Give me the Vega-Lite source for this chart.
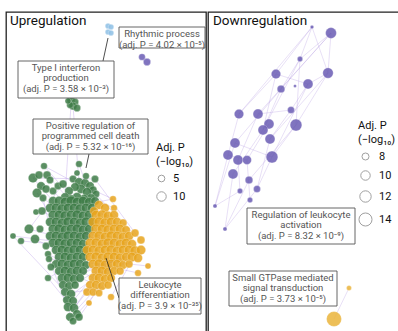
{
  "$schema": "https://vega.github.io/schema/vega-lite/v6.json",
  "padding": {"left": 5, "top": 11, "right": 0, "bottom": 0},
  "spacing": 0,
  "background": "white",
  "config": {"view": {"stroke": "#222", "strokeWidth": 1.3}, "font": "Roboto"},
  "datasets": {
    "lnodes": [
      {"x":70,"y":99,"p":7,"g":"green"},{"x":74,"y":101,"p":6,"g":"green"},{"x":72,"y":105,"p":7,"g":"green"},{"x":76,"y":107,"p":6,"g":"green"},{"x":69,"y":104,"p":5,"g":"green"},{"x":67,"y":100,"p":4,"g":"green"},
      {"x":43,"y":165,"p":5,"g":"green"},{"x":78,"y":163,"p":5,"g":"green"},{"x":32,"y":177,"p":10,"g":"green"},{"x":38,"y":174,"p":7,"g":"green"},{"x":46,"y":174,"p":7,"g":"green"},{"x":49,"y":179,"p":6,"g":"green"},{"x":40,"y":185,"p":8,"g":"green"},{"x":36,"y":192,"p":10,"g":"green"},{"x":45,"y":188,"p":7,"g":"green"},{"x":42,"y":197,"p":6,"g":"green"},{"x":52,"y":190,"p":6,"g":"green"},{"x":57,"y":185,"p":6,"g":"green"},{"x":62,"y":183,"p":7,"g":"green"},
      {"x":72,"y":178,"p":6,"g":"green"},{"x":78,"y":181,"p":8,"g":"green"},{"x":84,"y":182,"p":8,"g":"green"},{"x":89,"y":185,"p":8,"g":"green"},{"x":92,"y":189,"p":7,"g":"green"},{"x":95,"y":193,"p":6,"g":"green"},{"x":80,"y":188,"p":9,"g":"green"},{"x":86,"y":191,"p":9,"g":"green"},{"x":74,"y":186,"p":8,"g":"green"},{"x":68,"y":190,"p":8,"g":"green"},{"x":90,"y":197,"p":8,"g":"green"},{"x":83,"y":198,"p":9,"g":"green"},{"x":76,"y":196,"p":9,"g":"green"},{"x":70,"y":198,"p":8,"g":"green"},{"x":64,"y":196,"p":8,"g":"green"},{"x":94,"y":178,"p":6,"g":"green"},{"x":85,"y":175,"p":5,"g":"green"},{"x":76,"y":172,"p":4,"g":"green"},
      {"x":52,"y":200,"p":9,"g":"green"},{"x":58,"y":200,"p":10,"g":"green"},{"x":64,"y":201,"p":10,"g":"green"},{"x":70,"y":200,"p":11,"g":"green"},{"x":76,"y":201,"p":10,"g":"green"},{"x":82,"y":200,"p":10,"g":"green"},{"x":88,"y":201,"p":9,"g":"green"},{"x":94,"y":200,"p":8,"g":"green"},
      {"x":49,"y":207,"p":9,"g":"green"},{"x":55,"y":207,"p":10,"g":"green"},{"x":61,"y":208,"p":11,"g":"green"},{"x":67,"y":207,"p":10,"g":"green"},{"x":73,"y":207,"p":10,"g":"green"},{"x":79,"y":208,"p":11,"g":"green"},{"x":85,"y":207,"p":10,"g":"green"},{"x":91,"y":207,"p":9,"g":"green"},
      {"x":52,"y":214,"p":10,"g":"green"},{"x":58,"y":214,"p":10,"g":"green"},{"x":64,"y":215,"p":11,"g":"green"},{"x":70,"y":214,"p":10,"g":"green"},{"x":76,"y":214,"p":11,"g":"green"},{"x":82,"y":215,"p":10,"g":"green"},{"x":88,"y":214,"p":10,"g":"green"},
      {"x":49,"y":221,"p":9,"g":"green"},{"x":55,"y":221,"p":10,"g":"green"},{"x":61,"y":222,"p":10,"g":"green"},{"x":67,"y":221,"p":11,"g":"green"},{"x":73,"y":221,"p":10,"g":"green"},{"x":79,"y":222,"p":10,"g":"green"},{"x":85,"y":221,"p":11,"g":"green"},{"x":91,"y":221,"p":9,"g":"green"},
      {"x":52,"y":228,"p":10,"g":"green"},{"x":58,"y":228,"p":11,"g":"green"},{"x":64,"y":229,"p":10,"g":"green"},{"x":70,"y":228,"p":10,"g":"green"},{"x":76,"y":228,"p":11,"g":"green"},{"x":82,"y":229,"p":10,"g":"green"},{"x":88,"y":228,"p":9,"g":"green"},
      {"x":49,"y":235,"p":9,"g":"green"},{"x":55,"y":235,"p":10,"g":"green"},{"x":61,"y":236,"p":10,"g":"green"},{"x":67,"y":235,"p":11,"g":"green"},{"x":73,"y":235,"p":10,"g":"green"},{"x":79,"y":236,"p":10,"g":"green"},{"x":85,"y":235,"p":9,"g":"green"},
      {"x":52,"y":242,"p":10,"g":"green"},{"x":58,"y":242,"p":10,"g":"green"},{"x":64,"y":243,"p":11,"g":"green"},{"x":70,"y":242,"p":10,"g":"green"},{"x":76,"y":242,"p":10,"g":"green"},{"x":82,"y":243,"p":9,"g":"green"},
      {"x":55,"y":249,"p":9,"g":"green"},{"x":61,"y":249,"p":10,"g":"green"},{"x":67,"y":250,"p":10,"g":"green"},{"x":73,"y":249,"p":11,"g":"green"},{"x":79,"y":249,"p":10,"g":"green"},{"x":85,"y":250,"p":9,"g":"green"},
      {"x":58,"y":256,"p":9,"g":"green"},{"x":64,"y":256,"p":10,"g":"green"},{"x":70,"y":257,"p":10,"g":"green"},{"x":76,"y":256,"p":10,"g":"green"},{"x":82,"y":256,"p":9,"g":"green"},
      {"x":55,"y":263,"p":8,"g":"green"},{"x":61,"y":263,"p":10,"g":"green"},{"x":67,"y":264,"p":10,"g":"green"},{"x":73,"y":263,"p":10,"g":"green"},{"x":79,"y":263,"p":9,"g":"green"},{"x":85,"y":264,"p":8,"g":"green"},
      {"x":58,"y":270,"p":8,"g":"green"},{"x":64,"y":270,"p":10,"g":"green"},{"x":70,"y":271,"p":9,"g":"green"},{"x":76,"y":270,"p":10,"g":"green"},{"x":82,"y":270,"p":8,"g":"green"},
      {"x":61,"y":277,"p":9,"g":"green"},{"x":67,"y":277,"p":10,"g":"green"},{"x":73,"y":278,"p":9,"g":"green"},{"x":79,"y":277,"p":8,"g":"green"},
      {"x":35,"y":211,"p":4,"g":"green"},{"x":41,"y":210,"p":7,"g":"green"},{"x":28,"y":228,"p":10,"g":"green"},{"x":12,"y":235,"p":4,"g":"green"},{"x":20,"y":240,"p":5,"g":"green"},{"x":34,"y":238,"p":9,"g":"green"},{"x":39,"y":228,"p":6,"g":"green"},{"x":45,"y":245,"p":6,"g":"green"},{"x":47,"y":253,"p":5,"g":"green"},{"x":48,"y":258,"p":5,"g":"green"},{"x":47,"y":277,"p":5,"g":"green"},{"x":50,"y":266,"p":6,"g":"green"},
      {"x":62,"y":284,"p":8,"g":"green"},{"x":68,"y":285,"p":8,"g":"green"},{"x":74,"y":284,"p":7,"g":"green"},{"x":64,"y":291,"p":8,"g":"green"},{"x":70,"y":293,"p":9,"g":"green"},{"x":66,"y":299,"p":8,"g":"green"},{"x":72,"y":300,"p":8,"g":"green"},{"x":67,"y":306,"p":9,"g":"green"},{"x":73,"y":307,"p":9,"g":"green"},{"x":76,"y":313,"p":8,"g":"green"},{"x":69,"y":316,"p":8,"g":"green"},{"x":78,"y":316,"p":7,"g":"green"},{"x":72,"y":320,"p":6,"g":"green"},
      {"x":112,"y":198,"p":5,"g":"orange"},{"x":113,"y":207,"p":5,"g":"orange"},{"x":98,"y":204,"p":9,"g":"orange"},{"x":104,"y":207,"p":9,"g":"orange"},{"x":93,"y":210,"p":8,"g":"orange"},
      {"x":95,"y":214,"p":10,"g":"orange"},{"x":101,"y":214,"p":11,"g":"orange"},{"x":107,"y":215,"p":10,"g":"orange"},{"x":113,"y":214,"p":9,"g":"orange"},
      {"x":92,"y":221,"p":10,"g":"orange"},{"x":98,"y":221,"p":11,"g":"orange"},{"x":104,"y":222,"p":11,"g":"orange"},{"x":110,"y":221,"p":10,"g":"orange"},{"x":116,"y":221,"p":9,"g":"orange"},{"x":122,"y":222,"p":7,"g":"orange"},
      {"x":95,"y":228,"p":11,"g":"orange"},{"x":101,"y":228,"p":10,"g":"orange"},{"x":107,"y":229,"p":11,"g":"orange"},{"x":113,"y":228,"p":10,"g":"orange"},{"x":119,"y":228,"p":10,"g":"orange"},{"x":125,"y":229,"p":8,"g":"orange"},
      {"x":92,"y":235,"p":10,"g":"orange"},{"x":98,"y":235,"p":11,"g":"orange"},{"x":104,"y":236,"p":10,"g":"orange"},{"x":110,"y":235,"p":11,"g":"orange"},{"x":116,"y":235,"p":10,"g":"orange"},{"x":122,"y":236,"p":10,"g":"orange"},{"x":128,"y":235,"p":9,"g":"orange"},{"x":134,"y":232,"p":7,"g":"orange"},{"x":140,"y":239,"p":7,"g":"orange"},
      {"x":89,"y":242,"p":10,"g":"orange"},{"x":95,"y":242,"p":11,"g":"orange"},{"x":101,"y":243,"p":10,"g":"orange"},{"x":107,"y":242,"p":11,"g":"orange"},{"x":113,"y":242,"p":10,"g":"orange"},{"x":119,"y":243,"p":10,"g":"orange"},{"x":125,"y":242,"p":10,"g":"orange"},{"x":131,"y":243,"p":9,"g":"orange"},
      {"x":86,"y":249,"p":9,"g":"orange"},{"x":92,"y":249,"p":10,"g":"orange"},{"x":98,"y":250,"p":11,"g":"orange"},{"x":104,"y":249,"p":10,"g":"orange"},{"x":110,"y":249,"p":11,"g":"orange"},{"x":116,"y":250,"p":10,"g":"orange"},{"x":122,"y":249,"p":10,"g":"orange"},{"x":128,"y":249,"p":10,"g":"orange"},{"x":134,"y":250,"p":11,"g":"orange"},{"x":140,"y":249,"p":10,"g":"orange"},
      {"x":89,"y":256,"p":10,"g":"orange"},{"x":95,"y":256,"p":11,"g":"orange"},{"x":101,"y":257,"p":10,"g":"orange"},{"x":107,"y":256,"p":11,"g":"orange"},{"x":113,"y":256,"p":10,"g":"orange"},{"x":119,"y":257,"p":10,"g":"orange"},{"x":125,"y":256,"p":9,"g":"orange"},{"x":131,"y":256,"p":10,"g":"orange"},{"x":137,"y":257,"p":9,"g":"orange"},
      {"x":92,"y":263,"p":10,"g":"orange"},{"x":98,"y":263,"p":11,"g":"orange"},{"x":104,"y":264,"p":10,"g":"orange"},{"x":110,"y":263,"p":10,"g":"orange"},{"x":116,"y":263,"p":9,"g":"orange"},{"x":122,"y":264,"p":8,"g":"orange"},{"x":128,"y":263,"p":7,"g":"orange"},{"x":147,"y":265,"p":4,"g":"orange"},{"x":137,"y":272,"p":5,"g":"orange"},
      {"x":95,"y":270,"p":10,"g":"orange"},{"x":101,"y":270,"p":10,"g":"orange"},{"x":107,"y":271,"p":9,"g":"orange"},{"x":113,"y":270,"p":8,"g":"orange"},{"x":119,"y":270,"p":7,"g":"orange"},
      {"x":92,"y":277,"p":9,"g":"orange"},{"x":98,"y":277,"p":10,"g":"orange"},{"x":104,"y":278,"p":9,"g":"orange"},{"x":110,"y":277,"p":8,"g":"orange"},
      {"x":89,"y":284,"p":8,"g":"orange"},{"x":95,"y":284,"p":9,"g":"orange"},{"x":101,"y":285,"p":8,"g":"orange"},{"x":107,"y":284,"p":7,"g":"orange"},
      {"x":86,"y":291,"p":7,"g":"orange"},{"x":92,"y":291,"p":7,"g":"orange"},{"x":98,"y":292,"p":6,"g":"orange"},{"x":110,"y":296,"p":5,"g":"orange"},{"x":88,"y":302,"p":4,"g":"orange"},
      {"x":141,"y":56,"p":5,"g":"purple"},{"x":146,"y":61,"p":6,"g":"purple"},
      {"x":107,"y":25,"p":3.5,"g":"blue"},{"x":110,"y":26,"p":3.5,"g":"blue"},{"x":107,"y":31,"p":3.5,"g":"blue"},{"x":110,"y":32,"p":3.5,"g":"blue"}
    ],
    "ledges": [
      {"x":72,"y":105,"x2":78,"y2":181},{"x":70,"y":104,"x2":64,"y2":196},
      {"x":43,"y":165,"x2":86,"y2":214},{"x":78,"y":163,"x2":98,"y2":222},{"x":32,"y":177,"x2":72,"y2":223},{"x":46,"y":174,"x2":104,"y2":238},{"x":36,"y":192,"x2":91,"y2":237},{"x":52,"y":190,"x2":112,"y2":248},{"x":62,"y":183,"x2":121,"y2":241},{"x":84,"y":182,"x2":133,"y2":233},{"x":94,"y":178,"x2":140,"y2":240},{"x":92,"y":189,"x2":112,"y2":198},{"x":90,"y":197,"x2":113,"y2":207},{"x":83,"y":198,"x2":128,"y2":234},{"x":28,"y":228,"x2":94,"y2":246},{"x":12,"y":235,"x2":51,"y2":240},{"x":20,"y":240,"x2":88,"y2":246},{"x":34,"y":238,"x2":100,"y2":271},{"x":41,"y":210,"x2":106,"y2":247},{"x":50,"y":210,"x2":118,"y2":248},{"x":47,"y":253,"x2":96,"y2":279},{"x":48,"y":258,"x2":110,"y2":264},{"x":56,"y":266,"x2":104,"y2":288},{"x":62,"y":283,"x2":98,"y2":263},{"x":67,"y":306,"x2":108,"y2":256},{"x":73,"y":307,"x2":114,"y2":256},{"x":76,"y":313,"x2":126,"y2":258},{"x":69,"y":316,"x2":102,"y2":280},{"x":65,"y":298,"x2":120,"y2":257},{"x":63,"y":289,"x2":130,"y2":250},{"x":72,"y":276,"x2":136,"y2":251},{"x":60,"y":275,"x2":141,"y2":252},{"x":47,"y":277,"x2":90,"y2":254},{"x":88,"y":276,"x2":138,"y2":258},{"x":82,"y":258,"x2":147,"y2":265},{"x":92,"y":262,"x2":137,"y2":272},{"x":88,"y":302,"x2":106,"y2":271},{"x":110,"y":296,"x2":128,"y2":265},{"x":59,"y":231,"x2":132,"y2":238},{"x":65,"y":232,"x2":127,"y2":242},{"x":71,"y":214,"x2":121,"y2":225},{"x":66,"y":223,"x2":116,"y2":224},{"x":58,"y":203,"x2":113,"y2":216},{"x":76,"y":205,"x2":112,"y2":198},{"x":54,"y":221,"x2":93,"y2":229},{"x":45,"y":238,"x2":92,"y2":221},{"x":57,"y":240,"x2":99,"y2":230},{"x":74,"y":251,"x2":115,"y2":240},{"x":69,"y":292,"x2":92,"y2":288},{"x":78,"y":316,"x2":88,"y2":302},{"x":73,"y":307,"x2":85,"y2":290},
      {"x":32,"y":177,"x2":94,"y2":178},{"x":43,"y":165,"x2":95,"y2":193},{"x":28,"y":228,"x2":62,"y2":183},{"x":36,"y":192,"x2":76,"y2":259},{"x":42,"y":197,"x2":67,"y2":306},{"x":12,"y":235,"x2":63,"y2":289},{"x":48,"y":258,"x2":72,"y2":320},{"x":47,"y":277,"x2":76,"y2":313}
    ],
    "lboxes": [
      {"x":118,"x2":204,"y":26,"y2":47,"tx":161,"ty":28,"label":"Rhythmic process\n(adj. P = 4.02 × 10⁻⁵)"},
      {"x":17,"x2":113,"y":60,"y2":97,"tx":65,"ty":61.5,"label":"Type I interferon\nproduction\n(adj. P = 3.58 × 10⁻³)"},
      {"x":32,"x2":147,"y":118,"y2":153,"tx":89.5,"ty":119.5,"label":"Positive regulation of\nprogrammed cell death\n(adj. P = 5.32 × 10⁻¹⁶)"},
      {"x":118,"x2":200,"y":277,"y2":313,"tx":159,"ty":278.5,"label":"Leukocyte\ndifferentiation\n(adj. P = 3.9 × 10⁻³⁵)"}
    ],
    "llinks": [
      {"x":102,"y":60,"x2":107,"y2":37},
      {"x":88,"y":153,"x2":85,"y2":167},
      {"x":105,"y":257,"x2":118,"y2":297}
    ],
    "ltitle": [{"x":9,"y":13,"t":"Upregulation"}],
    "rnodes": [
      {"x":310,"y":26,"p":6.2,"g":"purple"},{"x":329,"y":32,"p":11.5,"g":"purple"},{"x":298,"y":58,"p":7,"g":"purple"},{"x":274,"y":73,"p":10,"g":"purple"},{"x":326,"y":72,"p":11,"g":"purple"},{"x":306,"y":83,"p":10.5,"g":"purple"},{"x":293,"y":85,"p":6,"g":"purple"},{"x":279,"y":88,"p":8.5,"g":"purple"},{"x":289,"y":109,"p":8,"g":"purple"},{"x":237,"y":113,"p":10,"g":"purple"},{"x":256,"y":113,"p":10.5,"g":"purple"},{"x":267,"y":123,"p":10.5,"g":"purple"},{"x":261,"y":129,"p":10.5,"g":"purple"},{"x":294,"y":124,"p":12.5,"g":"purple"},{"x":268,"y":138,"p":10.5,"g":"purple"},{"x":233,"y":142,"p":10.5,"g":"purple"},{"x":226,"y":154,"p":10.5,"g":"purple"},{"x":236,"y":159,"p":10.5,"g":"purple"},{"x":245,"y":159,"p":9.5,"g":"purple"},{"x":270,"y":156,"p":12.5,"g":"purple"},{"x":231,"y":173,"p":10.5,"g":"purple"},{"x":247,"y":179,"p":8.5,"g":"purple"},{"x":255,"y":188,"p":8,"g":"purple"},{"x":238,"y":190,"p":7,"g":"purple"},{"x":248,"y":199,"p":7,"g":"purple"},{"x":213,"y":205,"p":6.4,"g":"purple"},{"x":223,"y":228,"p":6.4,"g":"purple"},
      {"x":347,"y":287,"p":6.8,"g":"orange"},{"x":332,"y":318,"p":16.8,"g":"orange"}
    ],
    "redges": [
      {"x":310,"y":26,"x2":274,"y2":73},{"x":310,"y":26,"x2":298,"y2":58},{"x":329,"y":32,"x2":298,"y2":58},{"x":329,"y":32,"x2":326,"y2":72},{"x":310,"y":26,"x2":237,"y2":113},{"x":329,"y":32,"x2":256,"y2":113},{"x":298,"y":58,"x2":279,"y2":88},{"x":298,"y":58,"x2":294,"y2":124},{"x":274,"y":73,"x2":237,"y2":113},{"x":274,"y":73,"x2":261,"y2":129},{"x":326,"y":72,"x2":306,"y2":83},{"x":326,"y":72,"x2":294,"y2":124},{"x":326,"y":72,"x2":268,"y2":138},{"x":306,"y":83,"x2":289,"y2":109},{"x":306,"y":83,"x2":270,"y2":156},{"x":279,"y":88,"x2":261,"y2":129},{"x":279,"y":88,"x2":233,"y2":142},{"x":289,"y":109,"x2":268,"y2":138},{"x":289,"y":109,"x2":256,"y2":113},{"x":237,"y":113,"x2":226,"y2":154},{"x":256,"y":113,"x2":236,"y2":159},{"x":267,"y":123,"x2":245,"y2":159},{"x":294,"y":124,"x2":270,"y2":156},{"x":294,"y":124,"x2":247,"y2":179},{"x":261,"y":129,"x2":231,"y2":173},{"x":268,"y":138,"x2":255,"y2":188},{"x":233,"y":142,"x2":213,"y2":205},{"x":226,"y":154,"x2":213,"y2":205},{"x":236,"y":159,"x2":238,"y2":190},{"x":245,"y":159,"x2":248,"y2":199},{"x":270,"y":156,"x2":255,"y2":188},{"x":231,"y":173,"x2":223,"y2":228},{"x":247,"y":179,"x2":223,"y2":228},{"x":255,"y":188,"x2":223,"y2":228},{"x":238,"y":190,"x2":213,"y2":205},{"x":274,"y":73,"x2":306,"y2":83},{"x":310,"y":26,"x2":326,"y2":72},{"x":298,"y":58,"x2":261,"y2":129},{"x":329,"y":32,"x2":279,"y2":88},{"x":233,"y":142,"x2":270,"y2":156},{"x":226,"y":154,"x2":245,"y2":159},
      {"x":347,"y":287,"x2":332,"y2":318}
    ],
    "rboxes": [
      {"x":245,"x2":353,"y":207,"y2":243,"tx":299,"ty":208.5,"label":"Regulation of leukocyte\nactivation\n(adj. P = 8.32 × 10⁻⁹)"},
      {"x":227,"x2":335,"y":270,"y2":305,"tx":281,"ty":271.5,"label":"Small GTPase mediated\nsignal transduction\n(adj. P = 3.73 × 10⁻⁵)"}
    ],
    "rtitle": [{"x":211,"y":13,"t":"Downregulation"}]
  },
  "hconcat": [
    {
      "width": 200, "height": 321,
      "layer": [
        {"data": {"name": "ledges"}, "mark": {"type": "rule", "color": "#b295e6", "opacity": 0.45, "strokeWidth": 0.8},
         "encoding": {"x": {"field": "x", "type": "quantitative", "scale": {"domain": [5, 205], "zero": false, "nice": false}, "axis": null},
                      "y": {"field": "y", "type": "quantitative", "scale": {"domain": [11, 332], "zero": false, "nice": false, "reverse": true}, "axis": null},
                      "x2": {"field": "x2"}, "y2": {"field": "y2"}}},
        {"data": {"name": "lnodes"}, "mark": {"type": "circle", "opacity": 0.85, "stroke": "white", "strokeWidth": 0.6, "strokeOpacity": 0.5},
         "encoding": {"x": {"field": "x", "type": "quantitative"},
                      "y": {"field": "y", "type": "quantitative"},
                      "color": {"field": "g", "type": "nominal", "scale": {"domain": ["green", "orange", "purple", "blue"], "range": ["#3f7d48", "#e8a51e", "#6a5cb4", "#8ec0e6"]}, "legend": null},
                      "size": {"field": "p", "type": "quantitative", "scale": {"domain": [0, 15], "range": [0, 135]},
                               "legend": {"title": ["Adj. P", "(−log₁₀)"], "values": [5, 10], "orient": "none", "legendX": 150, "legendY": 130,
                                          "symbolFillColor": "white", "symbolStrokeColor": "#a0a0a0", "symbolStrokeWidth": 1, "symbolOpacity": 1,
                                          "titleFontSize": 11, "labelFontSize": 11, "titleFontWeight": "normal", "titleColor": "#111", "labelColor": "#111",
                                          "rowPadding": 5, "titleLineHeight": 14, "titlePadding": 6, "labelOffset": 6}}}},
        {"data": {"name": "llinks"}, "mark": {"type": "rule", "color": "#222", "strokeWidth": 0.8},
         "encoding": {"x": {"field": "x", "type": "quantitative"}, "y": {"field": "y", "type": "quantitative"}, "x2": {"field": "x2"}, "y2": {"field": "y2"}}},
        {"data": {"name": "lboxes"}, "mark": {"type": "rect", "fill": "white", "stroke": "#555", "strokeWidth": 0.9},
         "encoding": {"x": {"field": "x", "type": "quantitative"}, "y": {"field": "y", "type": "quantitative"}, "x2": {"field": "x2"}, "y2": {"field": "y2"}}},
        {"data": {"name": "lboxes"}, "mark": {"type": "text", "lineBreak": "\n", "align": "center", "baseline": "top", "fontSize": 9.5, "lineHeight": 10.8, "color": "#555"},
         "encoding": {"x": {"field": "tx", "type": "quantitative"}, "y": {"field": "ty", "type": "quantitative"}, "text": {"field": "label"}}},
        {"data": {"name": "ltitle"}, "mark": {"type": "text", "align": "left", "baseline": "top", "fontSize": 13.5, "color": "#111"},
         "encoding": {"x": {"field": "x", "type": "quantitative"}, "y": {"field": "y", "type": "quantitative"}, "text": {"field": "t"}}}
      ]
    },
    {
      "width": 195, "height": 321,
      "layer": [
        {"data": {"name": "redges"}, "mark": {"type": "rule", "color": "#b89de3", "opacity": 0.4, "strokeWidth": 0.8},
         "encoding": {"x": {"field": "x", "type": "quantitative", "scale": {"domain": [206, 401], "zero": false, "nice": false}, "axis": null},
                      "y": {"field": "y", "type": "quantitative", "scale": {"domain": [11, 332], "zero": false, "nice": false, "reverse": true}, "axis": null},
                      "x2": {"field": "x2"}, "y2": {"field": "y2"}}},
        {"data": {"name": "rnodes"}, "mark": {"type": "circle", "opacity": 0.85, "stroke": "white", "strokeWidth": 0.3},
         "encoding": {"x": {"field": "x", "type": "quantitative"},
                      "y": {"field": "y", "type": "quantitative"},
                      "color": {"field": "g", "type": "nominal", "scale": {"domain": ["purple", "orange"], "range": ["#6a5cb4", "#ebb43a"]}, "legend": null},
                      "size": {"field": "p", "type": "quantitative", "scale": {"domain": [6, 17], "range": [9, 230]},
                               "legend": {"title": ["Adj. P", "(−log₁₀)"], "values": [8, 10, 12, 14], "orient": "none", "legendX": 150, "legendY": 108,
                                          "symbolFillColor": "white", "symbolStrokeColor": "#a0a0a0", "symbolStrokeWidth": 1, "symbolOpacity": 1,
                                          "titleFontSize": 11, "labelFontSize": 11, "titleFontWeight": "normal", "titleColor": "#111", "labelColor": "#111",
                                          "rowPadding": 5, "titleLineHeight": 14, "titlePadding": 6, "labelOffset": 6}}}},
        {"data": {"name": "rboxes"}, "mark": {"type": "rect", "fill": "white", "stroke": "#555", "strokeWidth": 0.9},
         "encoding": {"x": {"field": "x", "type": "quantitative"}, "y": {"field": "y", "type": "quantitative"}, "x2": {"field": "x2"}, "y2": {"field": "y2"}}},
        {"data": {"name": "rboxes"}, "mark": {"type": "text", "lineBreak": "\n", "align": "center", "baseline": "top", "fontSize": 9.5, "lineHeight": 10.8, "color": "#555"},
         "encoding": {"x": {"field": "tx", "type": "quantitative"}, "y": {"field": "ty", "type": "quantitative"}, "text": {"field": "label"}}},
        {"data": {"name": "rtitle"}, "mark": {"type": "text", "align": "left", "baseline": "top", "fontSize": 13.5, "color": "#111"},
         "encoding": {"x": {"field": "x", "type": "quantitative"}, "y": {"field": "y", "type": "quantitative"}, "text": {"field": "t"}}}
      ]
    }
  ],
  "resolve": {"scale": {"x": "independent", "y": "independent", "size": "independent", "color": "independent"}, "legend": {"size": "independent", "color": "independent"}}
}
